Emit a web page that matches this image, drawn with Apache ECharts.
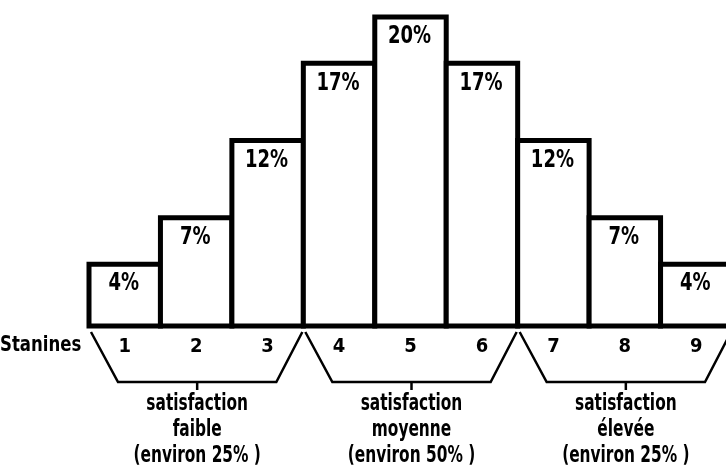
<!DOCTYPE html>
<html><head><meta charset="utf-8">
<script src="https://cdn.jsdelivr.net/npm/echarts@6/dist/echarts.min.js"></script>
<style>html,body{margin:0;padding:0;background:#fff;overflow:hidden}#c{width:732px;height:467px}</style>
</head><body><div id="c"></div>
<script>
var stanines = ['1','2','3','4','5','6','7','8','9'];
var percents = [4, 7, 12, 17, 20, 17, 12, 7, 4];
var groupRanges = [[0, 2, 0], [3, 5, 0], [6, 8, 0]];
var groupLine1 = ['satisfaction', 'satisfaction', 'satisfaction'];
var groupLine2 = ['faible', 'moyenne', 'élevée'];
var groupLine3 = ['(environ 25% )', '(environ 50% )', '(environ 25% )'];
var axisTitle = 'Stanines';

var FONT = "'Liberation Sans Narrow','DejaVu Sans Condensed','Roboto Condensed','Liberation Sans',sans-serif";
var barData = percents.map(function (v, i) { return [i, v]; });

var chart = echarts.init(document.getElementById('c'));
chart.setOption({
  backgroundColor: '#fff',
  animation: false,
  grid: {left: 89, right: 0, top: 17, bottom: 141},
  xAxis: {
    type: 'category', data: stanines,
    axisLine: {show: false}, axisTick: {show: false},
    axisLabel: {margin: 11, color: '#000', fontSize: 20, fontWeight: 'bold', fontFamily: FONT}
  },
  yAxis: {type: 'value', min: 0, max: 20, show: false, splitLine: {show: false}},
  graphic: [{
    type: 'text', left: 0, top: 334, scaleX: 0.97, scaleY: 1.15,
    style: {text: axisTitle, fill: '#000', font: 'bold 19px ' + FONT}
  }],
  series: [{
    type: 'custom', data: barData, encode: {x: 0, y: 1}, clip: false, z: 2,
    renderItem: function (params, api) {
      var bw = api.size([1, 0])[0];
      var top = api.coord([api.value(0), api.value(1)]);
      var base = api.coord([api.value(0), 0]);
      var xl = top[0] - bw / 2;
      return {type: 'group', children: [
        {type: 'rect', shape: {x: xl, y: top[1], width: bw, height: base[1] - top[1]},
          style: {fill: '#fff', stroke: '#000', lineWidth: 5, lineJoin: 'miter'}},
        {type: 'text', x: top[0] - 1, y: top[1] + 20, scaleY: 1.2, z2: 10,
          style: {text: api.value(1) + '%', x: 0, y: 0, align: 'center', verticalAlign: 'middle',
            fill: '#000', font: 'bold 20px ' + FONT}}
      ]};
    }
  }, {
    type: 'custom', data: groupRanges, encode: {x: [0, 1], y: 2}, clip: false, z: 3,
    renderItem: function (params, api) {
      var i = params.dataIndex;
      var bw = api.size([1, 0])[0];
      var p0 = api.coord([api.value(0), 0]);
      var p1 = api.coord([api.value(1), 0]);
      var x0 = p0[0] - bw / 2, x1 = p1[0] + bw / 2, yb = p0[1];
      var bl = x0 + 29, br = x1 - 27, yt = yb + 6, ybo = yb + 56;
      var cx = (bl + br) / 2;
      var tstyle = function (t, y) {
        return {type: 'text', x: cx, y: y, scaleX: 0.9, scaleY: 1.25,
          style: {text: t, x: 0, y: 0, align: 'center', verticalAlign: 'middle',
          fill: '#000', font: 'bold 19px ' + FONT}};
      };
      return {type: 'group', children: [
        {type: 'polyline', shape: {points: [[x0 + 2, yt], [bl, ybo], [br, ybo], [x1 - 1, yt]]},
          style: {stroke: '#000', lineWidth: 2.5, fill: null}},
        {type: 'line', shape: {x1: cx, y1: ybo, x2: cx, y2: ybo + 8}, style: {stroke: '#000', lineWidth: 2.5}},
        tstyle(groupLine1[i], yb + 78),
        tstyle(groupLine2[i], yb + 104),
        tstyle(groupLine3[i], yb + 130)
      ]};
    }
  }]
});
</script></body></html>
